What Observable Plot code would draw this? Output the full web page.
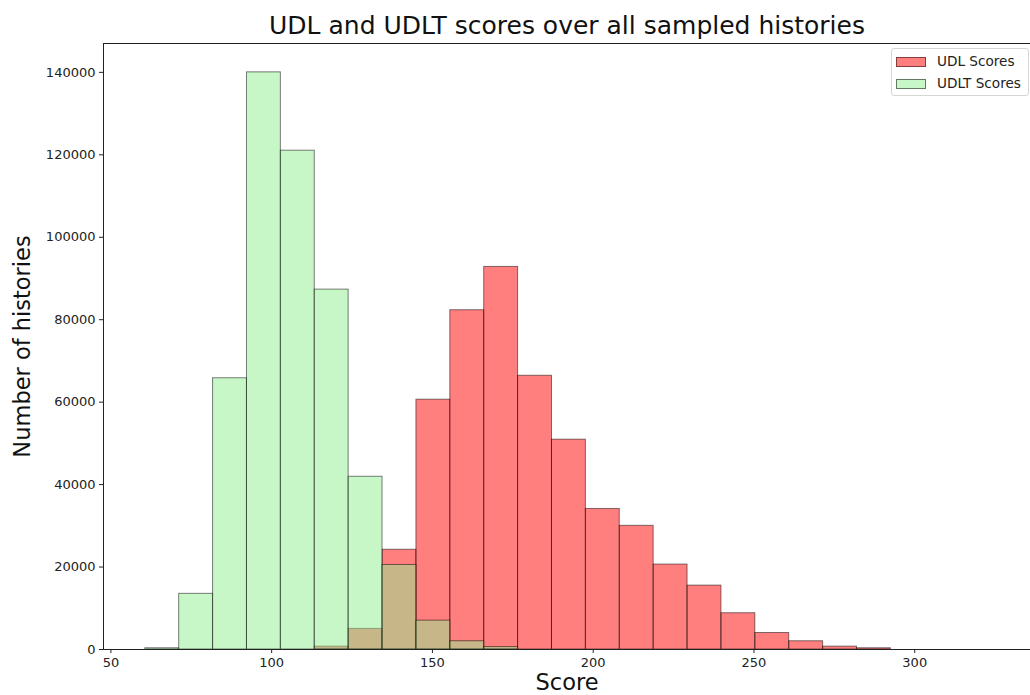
<!DOCTYPE html>
<html>
<head>
<meta charset="utf-8">
<script src="https://cdn.jsdelivr.net/npm/d3@7"></script>
<script src="https://cdn.jsdelivr.net/npm/@observablehq/plot@0.6"></script>
<style>
  html, body { margin: 0; padding: 0; background: #fff; }
  #wrap { position: relative; width: 1030px; height: 695px; overflow: hidden; font-family: "DejaVu Sans", sans-serif; }
  #legend { position: absolute; left: 891px; top: 48px; width: 136px; height: 46px; border: 1px solid #d6d6d6; border-radius: 3px; background: rgba(255,255,255,0.8); font-family: "DejaVu Sans", sans-serif; font-size: 13.6px; color: #222; }
  .item { position: absolute; left: 4px; height: 16px; }
  .sw { position: absolute; left: 0; top: 0; width: 28px; height: 8px; border: 1px solid rgba(0,0,0,0.5); }
  .lb { position: absolute; left: 41px; top: -4px; white-space: nowrap; line-height: 16px; }
</style>
</head>
<body>
<div id="wrap"></div>
<script>
// Bin start values (bin width ~10.54)
const binStarts = [60.7, 71.24, 81.78, 92.32, 102.86, 113.4, 123.94, 134.48, 145.02, 155.56, 166.1, 176.64, 187.18, 197.72, 208.26, 218.8, 229.34, 239.88, 250.42, 260.96, 271.5, 282.04];
const binWidth = 10.54;
const udlCounts  = [0, 0, 0, 0, 0, 700, 5000, 24200, 60600, 82300, 92800, 66400, 50900, 34100, 30000, 20600, 15500, 8800, 4000, 2000, 700, 300];
const udltCounts = [300, 13500, 65800, 140000, 121000, 87300, 41900, 20500, 7000, 2000, 600, 0, 0, 0, 0, 0, 0, 0, 0, 0, 0, 0];
const xTicks = [50, 100, 150, 200, 250, 300];
const yTicks = [0, 20000, 40000, 60000, 80000, 100000, 120000, 140000];
const seriesNames = ["UDL Scores", "UDLT Scores"];
const seriesColors = ["#ff0000", "#90ee90"];

const udlRows = binStarts.map((s, i) => ({series: seriesNames[0], x1: s, x2: s + binWidth, y: udlCounts[i]})).filter(d => d.y > 0);
const udltRows = binStarts.map((s, i) => ({series: seriesNames[1], x1: s, x2: s + binWidth, y: udltCounts[i]})).filter(d => d.y > 0);

const barOpts = {x1: "x1", x2: "x2", y1: 0, y2: "y", fill: "series", fillOpacity: 0.5, stroke: "#000", strokeOpacity: 0.5, strokeWidth: 1};

const chart = Plot.plot({
  width: 1030,
  height: 695,
  marginLeft: 103,
  marginRight: 0,
  marginTop: 43,
  marginBottom: 46,
  style: {fontFamily: "DejaVu Sans, sans-serif", fontSize: "13px", color: "#222", background: "#fff"},
  x: {domain: [47.7, 336], ticks: xTicks, tickSize: 4, tickPadding: 4, label: null, tickFormat: d3.format("d")},
  y: {domain: [0, 147000], ticks: yTicks, tickSize: 4, tickPadding: 4, label: null, tickFormat: d3.format("d")},
  color: {domain: seriesNames, range: seriesColors},
  marks: [
    Plot.rect(udlRows, barOpts),
    Plot.rect(udltRows, barOpts),
    Plot.frame({stroke: "#222", strokeWidth: 1}),
    Plot.text(["UDL and UDLT scores over all sampled histories"], {frameAnchor: "top", lineAnchor: "middle", textAnchor: "middle", dy: -18, text: d => d, fontSize: 25, fill: "#111"}),
    Plot.text(["Score"], {frameAnchor: "bottom", lineAnchor: "middle", textAnchor: "middle", dy: 33, text: d => d, fontSize: 22.5, fill: "#111"}),
    Plot.text(["Number of histories"], {frameAnchor: "left", lineAnchor: "middle", textAnchor: "middle", dx: -81, rotate: -90, text: d => d, fontSize: 22.5, fill: "#111"})
  ]
});

const wrap = document.getElementById("wrap");
wrap.appendChild(chart);

const legend = document.createElement("div");
legend.id = "legend";
seriesNames.forEach((name, i) => {
  const item = document.createElement("div");
  item.className = "item";
  item.style.top = (8 + i * 22) + "px";
  const sw = document.createElement("div");
  sw.className = "sw";
  sw.style.backgroundColor = i === 0 ? "rgba(255,0,0,0.5)" : "rgba(144,238,144,0.5)";
  const lb = document.createElement("div");
  lb.className = "lb";
  lb.textContent = name;
  item.appendChild(sw);
  item.appendChild(lb);
  legend.appendChild(item);
});
wrap.appendChild(legend);
</script>
</body>
</html>
